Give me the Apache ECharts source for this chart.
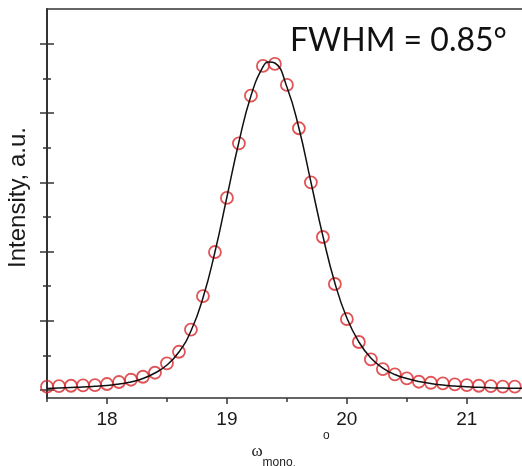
<!DOCTYPE html>
<html>
<head>
<meta charset="utf-8" />
<script src="https://cdn.jsdelivr.net/npm/echarts@6/dist/echarts.min.js"></script>
<title>FWHM</title>
</head>
<body style="margin:0">
<div id="main" style="width:522px;height:466px"></div>
<script type="text/javascript">
// measured points (red circles)
var omega = [17.5, 17.6, 17.7, 17.8, 17.9, 18.0, 18.1, 18.2, 18.3, 18.4,
             18.5, 18.6, 18.7, 18.8, 18.9, 19.0, 19.1, 19.2, 19.3, 19.4,
             19.5, 19.6, 19.7, 19.8, 19.9, 20.0, 20.1, 20.2, 20.3, 20.4,
             20.5, 20.6, 20.7, 20.8, 20.9, 21.0, 21.1, 21.2, 21.3, 21.4];
var measured = [0.048, 0.058, 0.062, 0.068, 0.072, 0.087, 0.116, 0.149, 0.192, 0.25,
                0.386, 0.553, 0.874, 1.358, 1.994, 2.775, 3.565, 4.253, 4.682, 4.711,
                4.408, 3.782, 3.001, 2.211, 1.532, 1.026, 0.694, 0.444, 0.303, 0.227,
                0.169, 0.12, 0.105, 0.097, 0.082, 0.072, 0.062, 0.058, 0.048, 0.048];
// fitted curve (black line)
var fitX = [17.5, 17.6, 17.7, 17.8, 17.9, 18.0, 18.1, 18.2, 18.3, 18.4,
            18.5, 18.6, 18.7, 18.8, 18.9, 19.0, 19.1, 19.2, 19.3, 19.35, 19.4,
            19.5, 19.6, 19.7, 19.8, 19.9, 20.0, 20.1, 20.2, 20.3, 20.4,
            20.5, 20.6, 20.7, 20.8, 20.9, 21.0, 21.1, 21.2, 21.3, 21.4, 21.46];
var fitY = [0.022, 0.029, 0.036, 0.043, 0.053, 0.065, 0.087, 0.116, 0.166, 0.246,
            0.361, 0.549, 0.853, 1.329, 1.994, 2.789, 3.584, 4.249, 4.668, 4.74, 4.725,
            4.379, 3.786, 3.006, 2.225, 1.546, 1.040, 0.694, 0.462, 0.318, 0.224,
            0.166, 0.123, 0.094, 0.072, 0.058, 0.046, 0.039, 0.033, 0.029, 0.026, 0.025];
var xTicks = [18, 19, 20, 21];
var xMinor = [17.5, 18.5, 19.5, 20.5];
var yTicks = [0, 1, 2, 3, 4, 5];
var yMinor = [0.5, 1.5, 2.5, 3.5, 4.5];

var points = [], curve = [];
for (var i = 0; i < omega.length; i++) points.push([omega[i], measured[i]]);
for (var j = 0; j < fitX.length; j++) curve.push([fitX[j], fitY[j]]);

var axisColor = '#333';
var xmin = 17.5, xmax = 21.46, ymin = -0.115, ymax = 5.505;

var myChart = echarts.init(document.getElementById('main'));
myChart.setOption({
    animation: false,
    title: {
        text: 'FWHM = 0.85°',
        left: 290, top: 25, padding: 0,
        textStyle: { fontFamily: 'Lato', fontWeight: 'normal', fontSize: 32, color: '#111' }
    },
    grid: { left: 47, top: 9, right: 0, bottom: 68, outerBoundsMode: 'none' },
    xAxis: [
        {
            type: 'value', min: xmin, max: xmax, position: 'bottom',
            axisLine: { onZero: false, lineStyle: { color: axisColor, width: 1.5 } },
            axisTick: { customValues: xTicks, length: 6, lineStyle: { color: axisColor, width: 1.5 } },
            axisLabel: { customValues: xTicks, fontFamily: 'Liberation Sans', fontSize: 19, color: '#1a1a1a', margin: 12 },
            splitLine: { show: false },
            name: '{w|ω}{s|mono}{c|,}        {o|o}',
            nameLocation: 'middle', nameGap: 34, nameMoveOverlap: false,
            nameTextStyle: {
                fontSize: 12,
                padding: [0, 0, 0, 12],
                rich: {
                    w: { fontFamily: 'Liberation Serif', fontSize: 17, color: '#222', lineHeight: 40, verticalAlign: 'middle' },
                    s: { fontFamily: 'Liberation Sans', fontSize: 12, color: '#222', height: 18, verticalAlign: 'bottom' },
                    c: { fontFamily: 'Liberation Sans', fontSize: 13, color: '#222', height: 18, verticalAlign: 'bottom' },
                    o: { fontFamily: 'Liberation Sans', fontSize: 12, color: '#222', height: 8, verticalAlign: 'top' }
                }
            }
        },
        {
            type: 'value', min: xmin, max: xmax, position: 'bottom',
            axisLine: { show: false, onZero: false },
            axisTick: { customValues: xMinor, length: 4, lineStyle: { color: axisColor, width: 1.5 } },
            axisLabel: { show: false },
            splitLine: { show: false }
        },
        {
            type: 'value', min: xmin, max: xmax, position: 'top',
            axisLine: { onZero: false, lineStyle: { color: axisColor, width: 1.5 } },
            axisTick: { show: false },
            axisLabel: { show: false },
            splitLine: { show: false }
        }
    ],
    yAxis: [
        {
            type: 'value', min: ymin, max: ymax, position: 'left',
            axisLine: { onZero: false, lineStyle: { color: axisColor, width: 2 } },
            axisTick: { show: false },
            axisLabel: { show: false },
            splitLine: { show: false },
            name: 'Intensity, a.u.',
            nameLocation: 'middle', nameGap: 17,
            nameTextStyle: { fontFamily: 'Liberation Sans', fontSize: 24, color: '#1a1a1a', padding: [0, 0, 0, 12] }
        },
        {
            type: 'value', min: ymin, max: ymax, position: 'left', offset: -7,
            axisLine: { show: false, onZero: false },
            axisTick: { customValues: yTicks, length: 14, lineStyle: { color: axisColor, width: 1.5 } },
            axisLabel: { show: false },
            splitLine: { show: false }
        },
        {
            type: 'value', min: ymin, max: ymax, position: 'left', offset: -4,
            axisLine: { show: false, onZero: false },
            axisTick: { customValues: yMinor, length: 8, lineStyle: { color: axisColor, width: 1.5 } },
            axisLabel: { show: false },
            splitLine: { show: false }
        }
    ],
    series: [
        {
            name: 'fit',
            type: 'line',
            smooth: true,
            showSymbol: false,
            data: curve,
            lineStyle: { color: '#111', width: 1.5 }
        },
        {
            name: 'data',
            type: 'scatter',
            symbol: 'circle',
            symbolSize: 12,
            data: points,
            itemStyle: { color: 'rgba(0,0,0,0)', borderColor: '#d8282c', borderWidth: 1.8 }
        }
    ]
});
</script>
</body>
</html>
